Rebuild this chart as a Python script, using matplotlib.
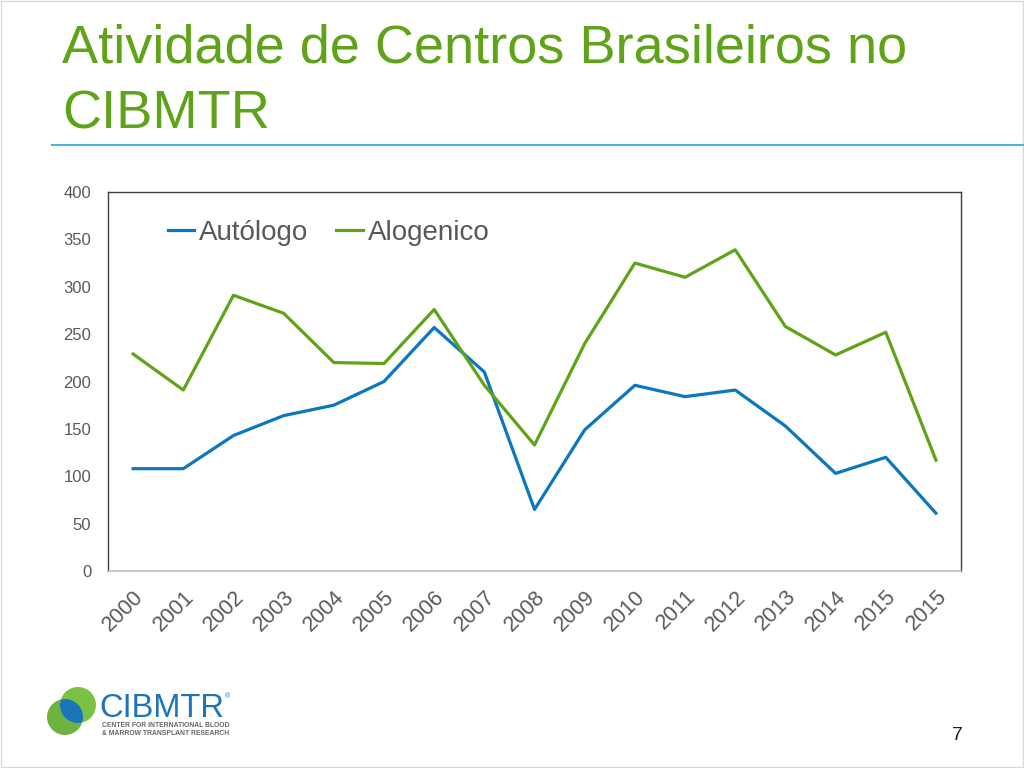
import matplotlib.pyplot as plt
import matplotlib.transforms as mtransforms
from matplotlib.patches import Ellipse, Rectangle
import matplotlib.lines as mlines

anos = ['2000', '2001', '2002', '2003', '2004', '2005', '2006', '2007', '2008',
        '2009', '2010', '2011', '2012', '2013', '2014', '2015', '2015']
autologo = [108, 108, 143, 164, 175, 200, 257, 210, 65,
            149, 196, 184, 191, 153, 103, 120, 61]
alogenico = [229, 191, 291, 272, 220, 219, 276, 196, 133,
             240, 325, 310, 339, 258, 228, 252, 117]

verde = '#5FA319'
azul = '#0A77BE'
cinza = '#595959'

plt.rcParams['font.family'] = ['Liberation Sans', 'DejaVu Sans']

fig = plt.figure(figsize=(10.24, 7.68), dpi=100)

# titulo do slide
fig.text(0.0605, 0.918, 'Atividade de Centros Brasileiros no', fontsize=39, color=verde, va='baseline')
fig.text(0.0605, 0.833, 'CIBMTR', fontsize=39, color=verde, va='baseline')
fig.add_artist(mlines.Line2D([0.051, 1.0], [0.811, 0.811], color='#4BB4DE', lw=1.5))

ax = fig.add_axes([0.1055, 0.2565, 0.833, 0.4935])
x = range(len(anos))
ax.plot(x, autologo, color=azul, lw=2.3, label='Autólogo')
ax.plot(x, alogenico, color=verde, lw=2.3, label='Alogenico')
ax.set_xlim(-0.5, len(anos) - 0.5)
ax.set_ylim(0, 400)
ax.set_yticks(range(0, 401, 50))
ax.set_xticks(list(x))
ax.set_xticklabels(anos, rotation=45, ha='right', va='top', rotation_mode='anchor',
                   fontsize=15.5, color=cinza)
desloc = mtransforms.ScaledTranslation(4 / 100, 0, fig.dpi_scale_trans)
for lbl in ax.get_xticklabels():
    lbl.set_transform(lbl.get_transform() + desloc)
ax.tick_params(axis='y', labelsize=12, colors=cinza, length=0, pad=12)
ax.tick_params(axis='x', length=0, pad=11)
for s in ['left', 'top', 'right']:
    ax.spines[s].set_color('#404040')
    ax.spines[s].set_linewidth(1)
ax.spines['bottom'].set_color('#BFBFBF')
ax.spines['bottom'].set_linewidth(1.2)

leg = ax.legend(loc='upper left', bbox_to_anchor=(0.041, 0.992), ncol=2, frameon=False,
                fontsize=20, handlelength=0.95, handletextpad=0.18, columnspacing=1.0)
for t in leg.get_texts():
    t.set_color(cinza)

# logo CIBMTR (duas esferas verdes com intersecao azul)
W, H = 1024, 768
c1 = (65 / W, 1 - 717 / H)
c2 = (78 / W, 1 - 705 / H)
r = 18
fig.add_artist(Ellipse(c1, 2 * r / W, 2 * r / H, transform=fig.transFigure, color='#6DB33F', ec='none'))
fig.add_artist(Ellipse(c2, 2 * r / W, 2 * r / H, transform=fig.transFigure, color='#7CC242', ec='none'))
e_clip = Ellipse(c1, 2 * r / W, 2 * r / H, transform=fig.transFigure, fc='none', ec='none')
fig.add_artist(e_clip)
meio = Ellipse(c2, 2 * r / W, 2 * r / H, transform=fig.transFigure, color='#1C75BC', ec='none')
fig.add_artist(meio)
meio.set_clip_path(e_clip)
fig.text(0.0975, 1 - 717 / H, 'CIBMTR', fontsize=23.5, color='#1C75BC', va='baseline')
fig.text(0.220, 1 - 698 / H, '®', fontsize=5, color='#1C75BC')
fig.text(0.0995, 1 - 727 / H, 'CENTER FOR INTERNATIONAL BLOOD', fontsize=4.9, color='#666666',
         fontweight='bold', va='baseline')
fig.text(0.0995, 1 - 735 / H, '& MARROW TRANSPLANT RESEARCH', fontsize=4.9, color='#666666',
         fontweight='bold', va='baseline')

fig.text(0.935, 0.0365, '7', fontsize=14, color='#222222', va='baseline', ha='center')

# moldura
fig.add_artist(Rectangle((0.001, 0.001), 0.998, 0.998, transform=fig.transFigure,
                         fill=False, ec='#D9D9D9', lw=1))

fig.savefig('out.png', dpi=100)
